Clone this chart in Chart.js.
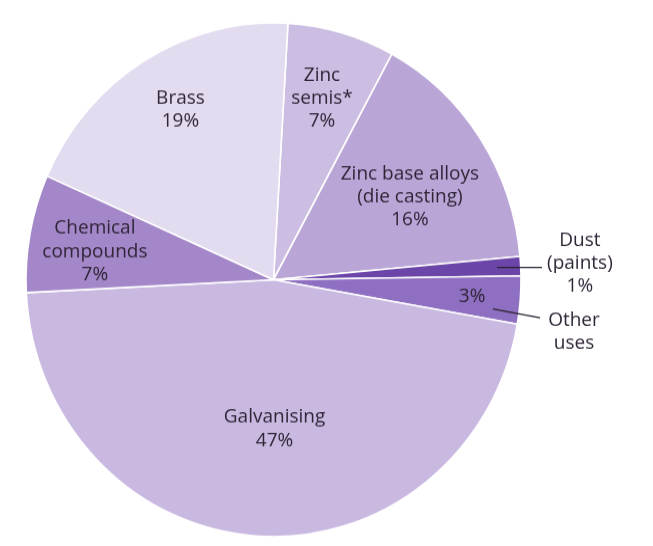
<!DOCTYPE html>
<html>
<head>
<meta charset="utf-8">
<script src="https://cdn.jsdelivr.net/npm/chart.js@4.4.1/dist/chart.umd.min.js"></script>
<style>
  html, body { margin: 0; padding: 0; background: #ffffff; }
  #c { display: block; width: 653px !important; height: 546px !important; }
</style>
</head>
<body>
<canvas id="c" width="653" height="526" style="display:block;width:653px;height:546px;"></canvas>
<script>
// ---- data (clockwise from the top) ----
const categories = ['Zinc semis*', 'Zinc base alloys (die casting)', 'Dust (paints)', 'Other uses', 'Galvanising', 'Chemical compounds', 'Brass'];
const shares = [7.0, 15.6, 1.2, 3.0, 46.4, 7.4, 19.3];
const percentLabels = ['7%', '16%', '1%', '3%', '47%', '7%', '19%'];
const nameLines = [['Zinc', 'semis*'], ['Zinc base alloys', '(die casting)'], ['Dust', '(paints)'], ['Other', 'uses'], ['Galvanising'], ['Chemical', 'compounds'], ['Brass']];

// ---- styles ----
const sliceColors = ['#cbbee2', '#b9a6d7', '#6b45a8', '#8f6fc1', '#c9b9e1', '#a387c9', '#e3dbef'];
const TEXT_COLOR = '#2f2537';
const LINE_COLOR = '#2a2230';
const FONT = '19px "Open Sans", "Noto Sans", sans-serif';
const LINE_H = 22.2;

// label placement: inside labels by polar angle (deg from top, clockwise) & radius fraction
// outside labels by x/y in radius units from the centre
const placement = [
  { inside: true, theta: 15.5, rho: 0.733, withPct: true },
  { inside: true, theta: 59.6, rho: 0.639, withPct: true },
  { inside: false, textX: 1.238, textY: -0.064, withPct: true, leader: { rho: 0.904, endX: 1.085, flat: true } },
  { inside: false, textX: 1.214, textY: 0.202, withPct: false, pctInside: { rho: 0.805 }, leader: { rho: 0.894, endX: 1.077, endY: 0.1477 } },
  { inside: true, theta: 179.6, rho: 0.58, withPct: true },
  { inside: true, theta: 278.7, rho: 0.73, withPct: true },
  { inside: true, theta: 330.4, rho: 0.761, withPct: true }
];

function drawLines(ctx, lines, x, y) {
  const top = y - (lines.length - 1) * LINE_H / 2;
  lines.forEach((t, k) => ctx.fillText(t, x, top + k * LINE_H));
}

const sliceLabels = {
  id: 'sliceLabels',
  afterDatasetsDraw(chart) {
    const ctx = chart.ctx;
    const arcs = chart.getDatasetMeta(0).data;
    ctx.save();
    ctx.font = FONT;
    ctx.fillStyle = TEXT_COLOR;
    ctx.strokeStyle = LINE_COLOR;
    ctx.lineWidth = 1.2;
    ctx.textAlign = 'center';
    ctx.textBaseline = 'middle';
    arcs.forEach((arc, i) => {
      const p = arc.getProps(['x', 'y', 'startAngle', 'endAngle', 'outerRadius'], true);
      const R = p.outerRadius;
      const mid = (p.startAngle + p.endAngle) / 2;
      const pl = placement[i];
      const lines = pl.withPct ? nameLines[i].concat([percentLabels[i]]) : nameLines[i];
      if (pl.inside) {
        const a = pl.theta * Math.PI / 180 - Math.PI / 2;
        drawLines(ctx, lines, p.x + pl.rho * R * Math.cos(a), p.y + pl.rho * R * Math.sin(a));
      } else {
        drawLines(ctx, lines, p.x + pl.textX * R, p.y + pl.textY * R);
        if (pl.pctInside) {
          drawLines(ctx, [percentLabels[i]], p.x + pl.pctInside.rho * R * Math.cos(mid), p.y + pl.pctInside.rho * R * Math.sin(mid));
        }
        if (pl.leader) {
          let sx, sy;
          if (pl.leader.flat) {
            sx = p.x + pl.leader.rho * R * Math.cos(mid);
            sy = p.y + pl.leader.rho * R * Math.sin(mid);
          } else {
            const a2 = mid + 2.8 * Math.PI / 180;
            sx = p.x + pl.leader.rho * R * Math.cos(a2);
            sy = p.y + pl.leader.rho * R * Math.sin(a2);
          }
          const ex = p.x + pl.leader.endX * R;
          const ey = pl.leader.flat ? sy : p.y + pl.leader.endY * R;
          ctx.beginPath();
          ctx.moveTo(sx, sy);
          ctx.lineTo(ex, ey);
          ctx.stroke();
        }
      }
    });
    ctx.restore();
  }
};

new Chart(document.getElementById('c'), {
  type: 'pie',
  data: {
    labels: categories,
    datasets: [{
      data: shares,
      backgroundColor: sliceColors,
      borderColor: '#ffffff',
      borderWidth: 1.6,
      hoverOffset: 0
    }]
  },
  options: {
    responsive: false,
    animation: false,
    rotation: 3.35,
    radius: 247.5,
    layout: { padding: { left: 26, right: 132, top: 22, bottom: 9 } },
    plugins: {
      legend: { display: false },
      tooltip: { enabled: false }
    },
    events: []
  },
  plugins: [sliceLabels]
});
</script>
</body>
</html>
